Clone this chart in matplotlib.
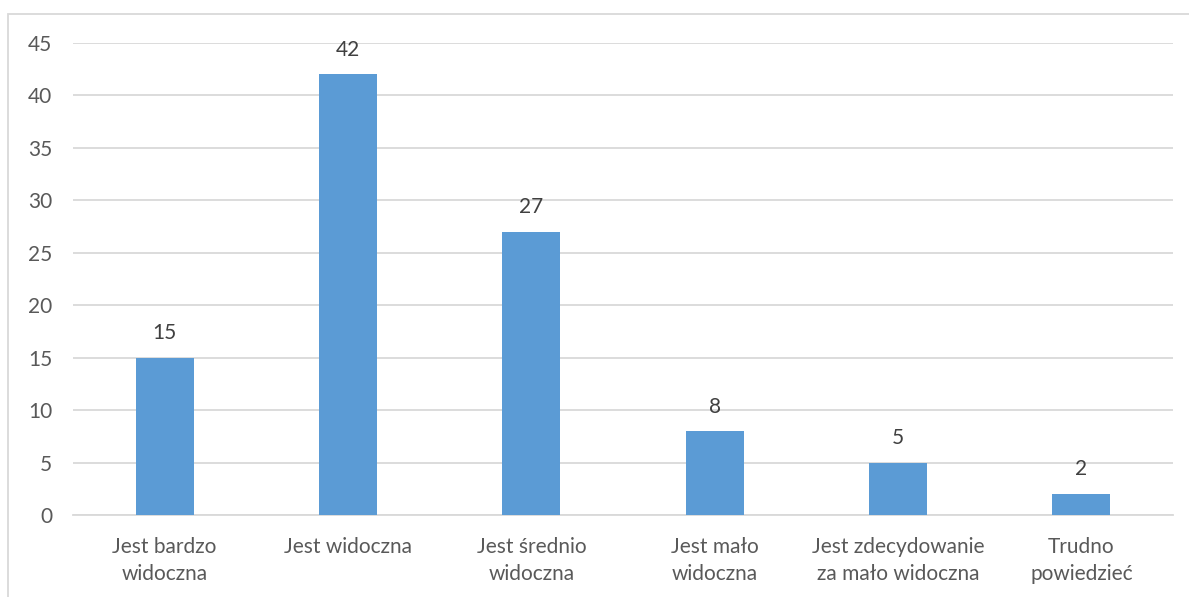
import matplotlib
matplotlib.use("Agg")
import matplotlib.pyplot as plt
from matplotlib.patches import Rectangle

categories = ["Jest bardzo\nwidoczna", "Jest widoczna", "Jest średnio\nwidoczna",
              "Jest mało\nwidoczna", "Jest zdecydowanie\nza mało widoczna", "Trudno\npowiedzieć"]
values = [15, 42, 27, 8, 5, 2]
yticks = [0, 5, 10, 15, 20, 25, 30, 35, 40, 45]

plt.rcParams['font.family'] = ['Lato', 'DejaVu Sans']
text_color = '#595959'
label_color = '#404040'
bar_color = '#5B9BD5'
grid_color = '#D9D9D9'
fs = 15

W, H = 1189, 597
fig = plt.figure(figsize=(W/100, H/100), dpi=100)
fig.patches.append(Rectangle((8/W, -0.1), 1.2, 1 - 14/H + 0.1, transform=fig.transFigure,
                             fill=False, edgecolor=grid_color, linewidth=1.3))

ax = fig.add_axes([73/W, 1 - 515/H, (1173-73)/W, (515-43)/H])
x = list(range(len(categories)))
ax.bar(x, values, width=0.315, color=bar_color, zorder=3)
for xi, v in zip(x, values):
    ax.annotate(str(v), (xi, v), xytext=(0, 10.5), textcoords='offset points',
                ha='center', va='bottom', fontsize=fs, color=label_color)

ax.set_xlim(-0.5, len(categories) - 0.5)
ax.set_ylim(0, 45)
ax.set_yticks(yticks)
ax.set_yticklabels([str(t) for t in yticks], fontsize=fs, color=text_color)
ax.set_xticks(x)
ax.set_xticklabels(categories, fontsize=fs, color=text_color, linespacing=1.42)
ax.tick_params(axis='both', length=0)
ax.tick_params(axis='y', pad=15)
ax.tick_params(axis='x', pad=16)
ax.grid(axis='y', color=grid_color, linewidth=1.3, zorder=0)
for s in ['top', 'right', 'left']:
    ax.spines[s].set_visible(False)
ax.spines['bottom'].set_color(grid_color)
ax.spines['bottom'].set_linewidth(1.3)

fig.savefig('out.png', dpi=100)
